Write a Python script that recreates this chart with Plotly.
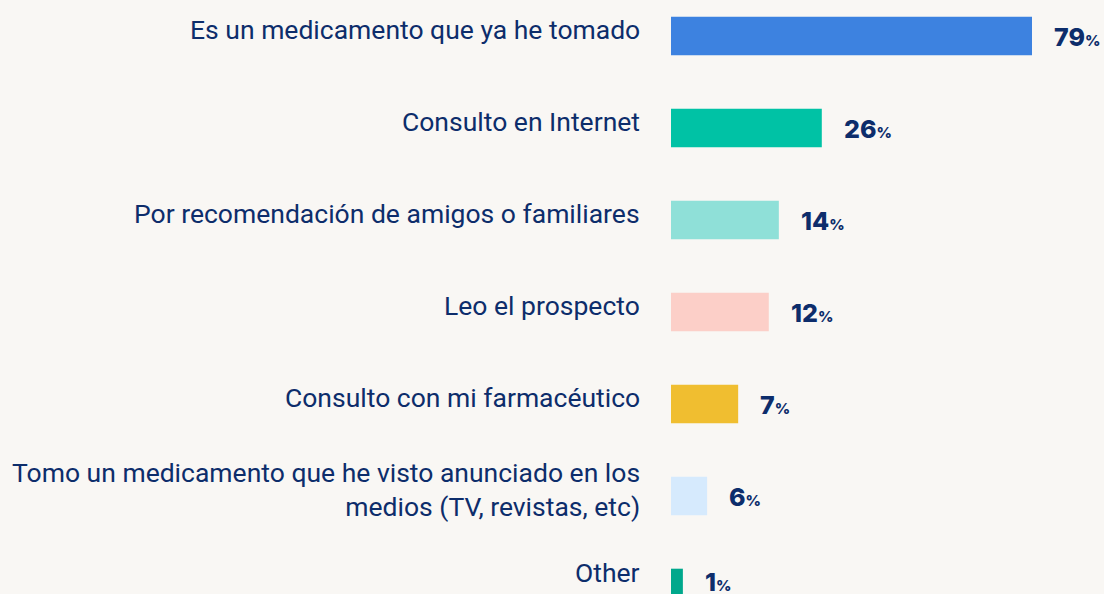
import plotly.graph_objects as go

# answers (top to bottom)
categories = [
    "Es un medicamento que ya he tomado",
    "Consulto en Internet",
    "Por recomendación de amigos o familiares",
    "Leo el prospecto",
    "Consulto con mi farmacéutico",
    "Tomo un medicamento que he visto anunciado en los<br>medios (TV, revistas, etc)",
    "Other",
]
# printed percentages
pct = [79, 26, 14, 12, 7, 6, 1]
# bar lengths as drawn in the picture (same units, not proportional to pct)
bar_len = [79, 33.0, 23.6, 21.4, 14.7, 7.9, 2.6]
colors = ["#3d82e0", "#00c2a5", "#8fe0d8", "#fccfc8", "#f0be30", "#d6eafd", "#00a88c"]

navy = "#0d2d6b"
bg = "#f9f7f4"

ids = list(range(len(categories)))
last = ids[-1]

fig = go.Figure(go.Bar(
    x=bar_len, y=ids, orientation="h",
    marker=dict(color=colors, line=dict(width=0)),
    hoverinfo="skip",
))

# category labels on the left (last row sits a bit tighter in the original)
for i, lab in zip(ids, categories):
    fig.add_annotation(
        x=0, xref="paper", y=i, yref="y", text=lab, showarrow=False,
        xanchor="right", align="right", xshift=-29, yshift=7 + (9 if i == last else 0),
        font=dict(family="Roboto", size=26.5, color=navy),
    )

# value labels
for i, v, b in zip(ids, pct, bar_len):
    fig.add_annotation(
        x=b, y=i, text=f"{v}<span style='font-size:15px'>%</span>", showarrow=False,
        xanchor="left", xshift=20, yshift=-1 + (7 if i == last else 0),
        font=dict(family="Inter", size=25, color=navy, weight=800),
    )

step = 92.0
top_c = 36.0
H = 594
fig.update_layout(
    width=1104, height=594,
    margin=dict(l=671, r=0, t=0, b=0),
    paper_bgcolor=bg, plot_bgcolor=bg,
    bargap=1 - 38.6 / step,
    showlegend=False,
    xaxis=dict(range=[0, 79 * (1104 - 671) / 361], visible=False, fixedrange=True),
    yaxis=dict(range=[(H - top_c) / step, -top_c / step], visible=False, fixedrange=True),
)

fig.write_html("out.html", config={"displayModeBar": False},
               post_script="document.body.style.margin='0';document.body.style.background='#f9f7f4';")
